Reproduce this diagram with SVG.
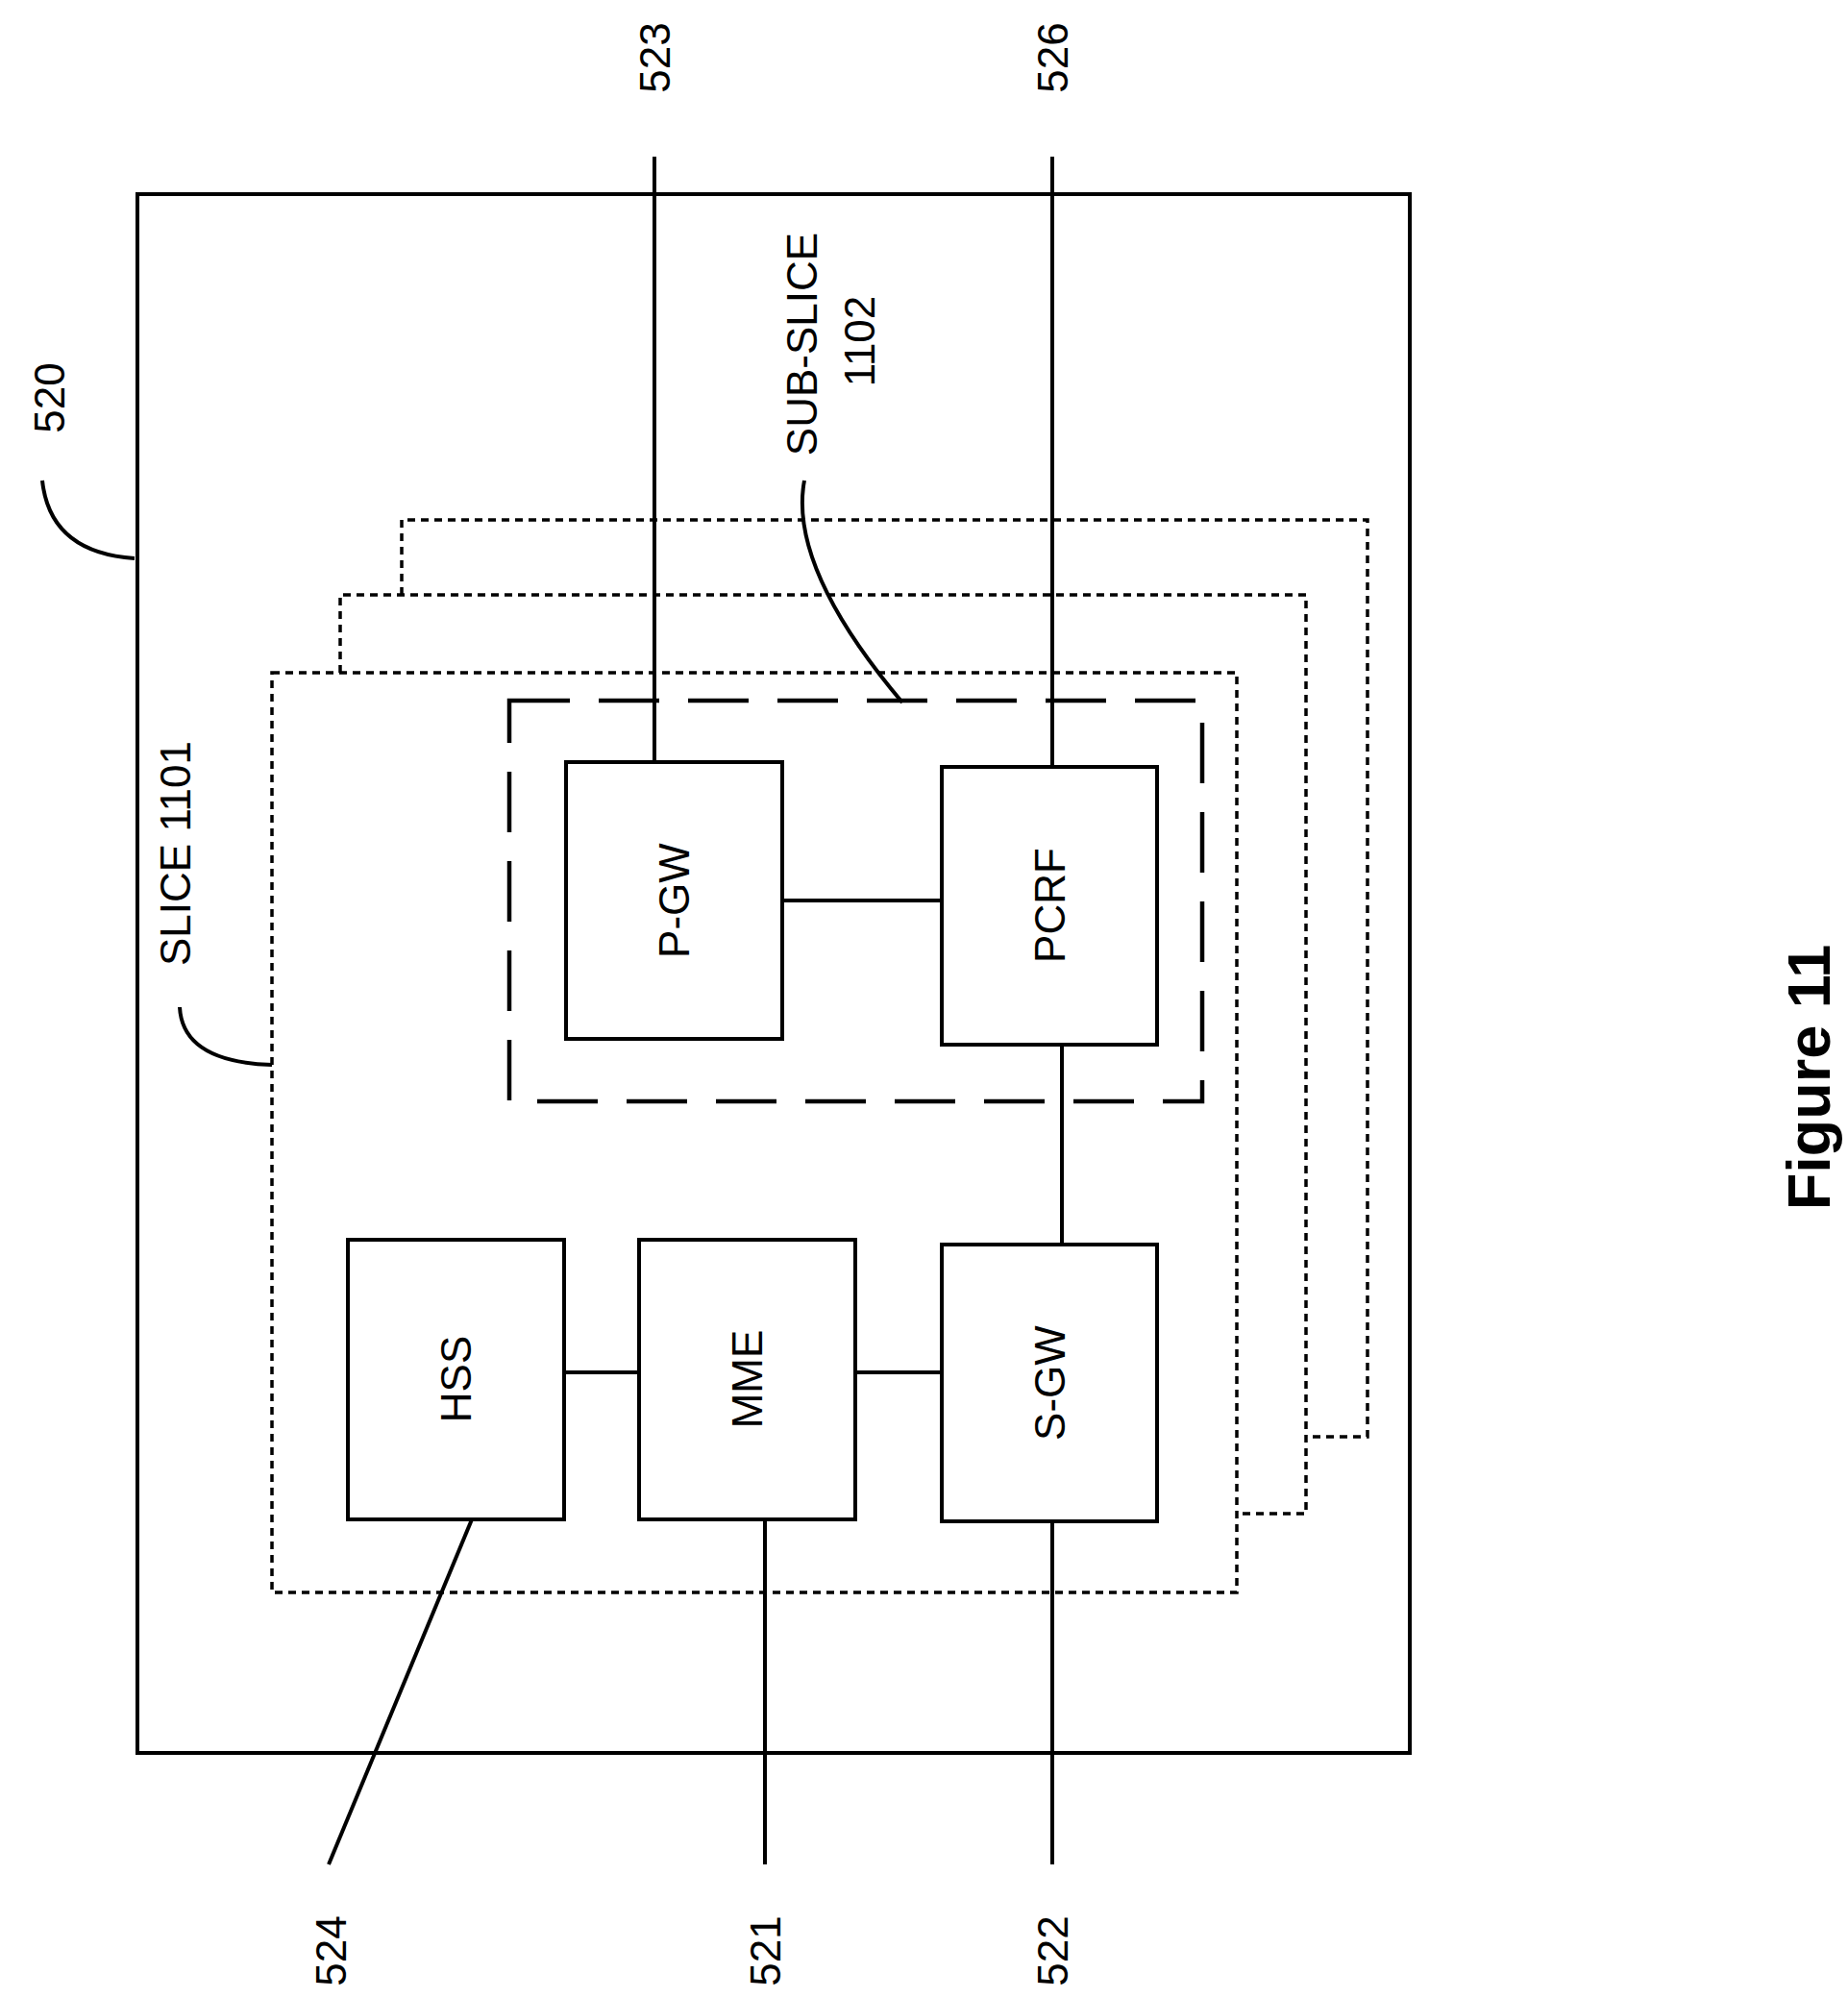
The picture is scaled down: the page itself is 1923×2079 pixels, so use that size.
<svg xmlns="http://www.w3.org/2000/svg" width="1923" height="2079" viewBox="0 0 1923 2079">
<style>
.b{fill:#fff;stroke:#000;stroke-width:4}
.l{fill:none;stroke:#000;stroke-width:4}
.d{fill:none;stroke:#000;stroke-width:3.5;stroke-dasharray:8 6}
.t{font-family:"Liberation Sans",Arial,sans-serif;font-size:44px;text-anchor:middle;dominant-baseline:central}
</style>
<rect width="1923" height="2079" fill="#fff"/>
<g id="outer"><rect class="l" x="143" y="202" width="1324" height="1622"/></g>
<g id="stack">
<path class="d" d="M418,619 V541 H1423 V1495 H1359"/>
<path class="d" d="M354,700 V619 H1359 V1575 H1287"/>
</g>
<g id="slice"><rect class="d" x="283" y="700" width="1004" height="957"/></g>
<g id="subslice"><rect x="530" y="729" width="721" height="417" fill="none" stroke="#000" stroke-width="4.5" stroke-dasharray="63 30"/></g>
<g id="connectors">
<line class="l" x1="681" y1="163" x2="681" y2="793"/>
<line class="l" x1="1095" y1="163" x2="1095" y2="798"/>
<line class="l" x1="814" y1="937" x2="980" y2="937"/>
<line class="l" x1="1105" y1="1087" x2="1105" y2="1295"/>
<line class="l" x1="587" y1="1428" x2="665" y2="1428"/>
<line class="l" x1="890" y1="1428" x2="980" y2="1428"/>
<line class="l" x1="491" y1="1581" x2="342" y2="1940"/>
<line class="l" x1="796" y1="1581" x2="796" y2="1940"/>
<line class="l" x1="1095" y1="1583" x2="1095" y2="1940"/>
<path class="l" d="M44,500 Q52,575 140,581"/>
<path class="l" d="M187,1048 Q190,1105 283,1108"/>
<path class="l" d="M837,500 Q820,590 939,731"/>
</g>
<g id="pgw"><rect class="b" x="589" y="793" width="225" height="288"/><text class="t" transform="translate(701,937) rotate(-90)">P-GW</text></g>
<g id="pcrf"><rect class="b" x="980" y="798" width="224" height="289"/><text class="t" transform="translate(1092,942) rotate(-90)">PCRF</text></g>
<g id="hss"><rect class="b" x="362" y="1290" width="225" height="291"/><text class="t" transform="translate(474,1435) rotate(-90)">HSS</text></g>
<g id="mme"><rect class="b" x="665" y="1290" width="225" height="291"/><text class="t" transform="translate(777,1435) rotate(-90)">MME</text></g>
<g id="sgw"><rect class="b" x="980" y="1295" width="224" height="288"/><text class="t" transform="translate(1092,1439) rotate(-90)">S-GW</text></g>
<g id="labels">
<text class="t" transform="translate(681,60) rotate(-90)">523</text>
<text class="t" transform="translate(1095,60) rotate(-90)">526</text>
<text class="t" transform="translate(51,414) rotate(-90)">520</text>
<text class="t" transform="translate(344,2030) rotate(-90)">524</text>
<text class="t" transform="translate(796,2030) rotate(-90)">521</text>
<text class="t" transform="translate(1095,2030) rotate(-90)">522</text>
<text class="t" transform="translate(182,888) rotate(-90)">SLICE 1101</text>
<text class="t" transform="translate(834,358) rotate(-90)">SUB-SLICE</text>
<text class="t" transform="translate(894,355) rotate(-90)">1102</text>
<text class="t" style="font-size:63px;font-weight:bold" transform="translate(1882,1121) rotate(-90)">Figure 11</text>
</g>
</svg>
